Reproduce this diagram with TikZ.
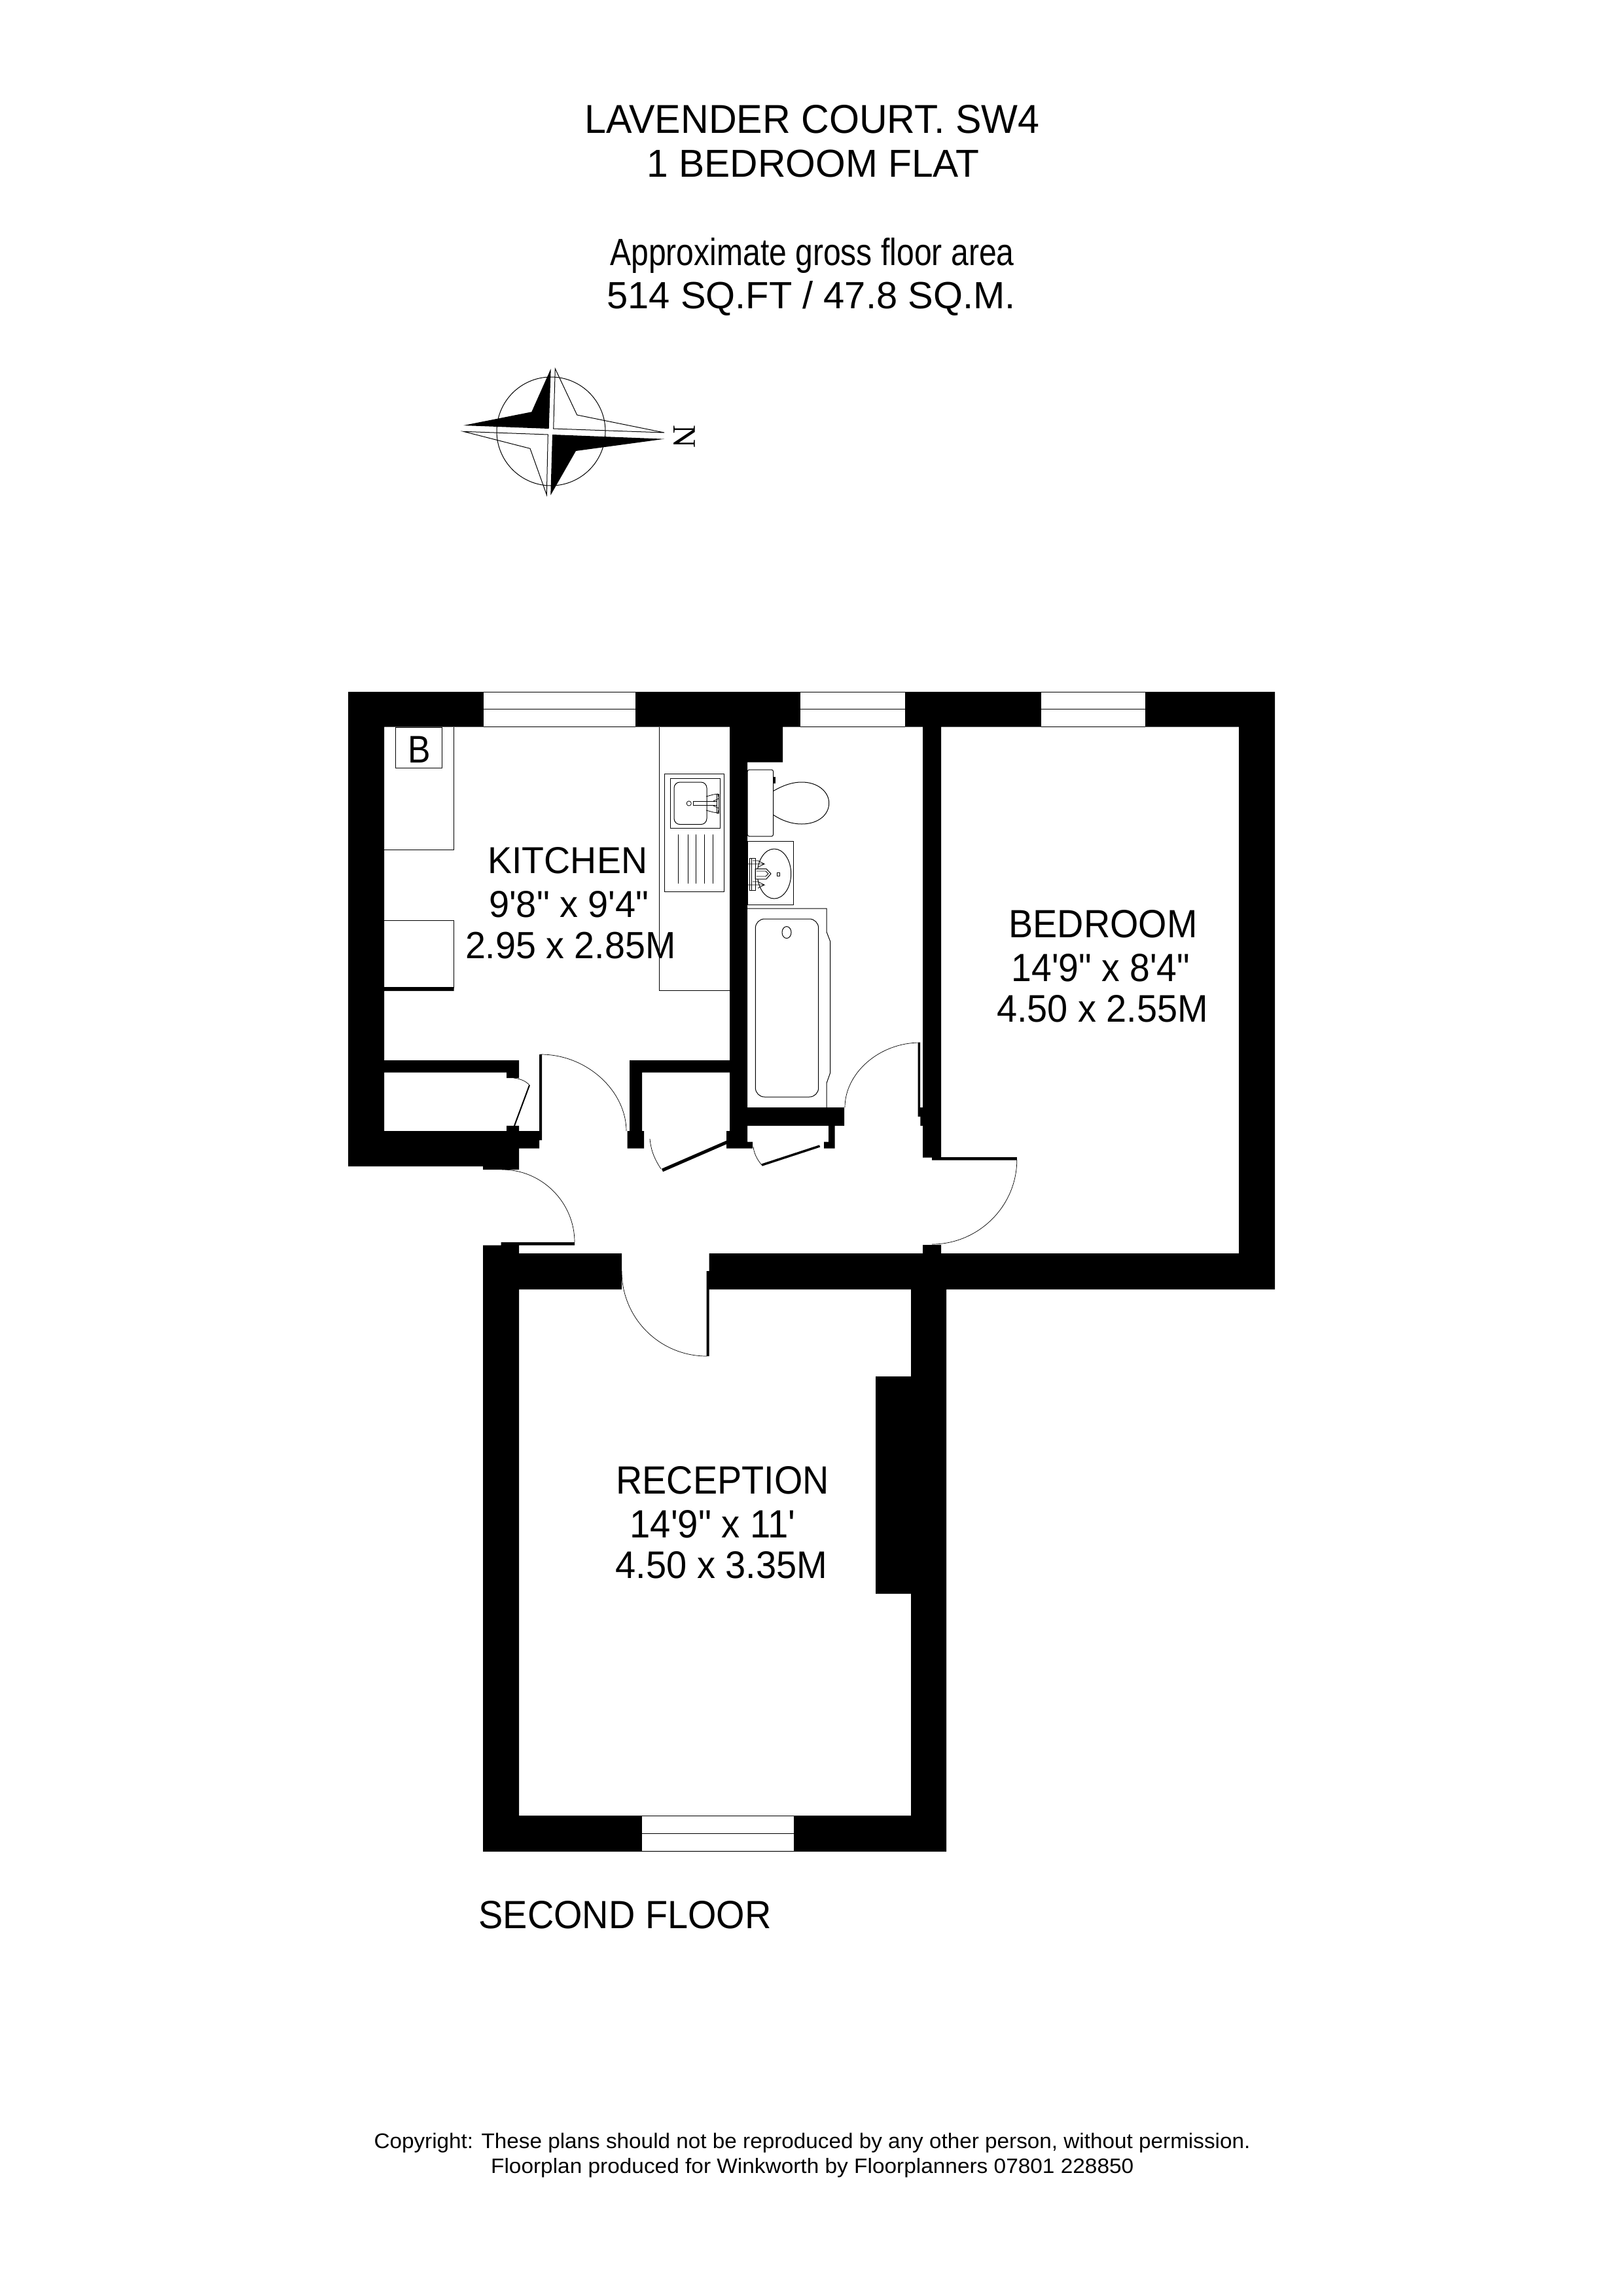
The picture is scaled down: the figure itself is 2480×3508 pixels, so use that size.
\documentclass[tikz,border=0pt]{standalone}
\usepackage{fontspec}
\usepackage{graphicx}
\newfontfamily\plainsans{Liberation Sans}
\newfontfamily\serifN{Liberation Serif}
\newcommand{\fitbox}[3]{\resizebox{\dimexpr#1pt+4pt\relax}{#2pt}{#3}}
\tikzset{
  wall/.style={fill=black,draw=none},
  fine/.style={draw=black,line width=1pt},
  hair/.style={draw=black,line width=0.8pt},
  swing/.style={draw=black,line width=0.7pt},
  leaf/.style={draw=black,line cap=butt},
  glaze/.style={fill=white,draw=none},
  txt/.style={inner sep=0pt,outer sep=0pt,anchor=base west,text=black,font=\plainsans,xshift=-1.5pt},
}
\begin{document}
\begin{tikzpicture}[x=1pt,y=-1pt]
\useasboundingbox (0,0) rectangle (2480,3508);
\fill[white] (0,0) rectangle (2480,3508);

% door swings (under the walls)
\path[swing] (826,1611) .. controls (898,1611) and (957,1668) .. (957,1728);
\path[swing] (767,1787) .. controls (828,1787) and (878,1837) .. (878,1898);
\path[swing] (950,1942) .. controls (950,2014) and (1008,2072) .. (1080,2072);
\path[swing] (1406,1593) .. controls (1343,1593) and (1291,1640) .. (1291,1692);
\path[swing] (1553.8,1772) .. controls (1553.8,1843) and (1495,1901) .. (1424,1901);
\path[swing] (993,1740) .. controls (995,1760) and (1001,1772) .. (1010,1786);
\path[swing] (1151,1752) .. controls (1152,1762) and (1157,1772) .. (1164,1780);
\path[swing] (785,1647) .. controls (795,1648) and (804,1652) .. (809,1658);

% walls
\path[wall]
  (532,1057) rectangle (1948,1110.5)
  (532,1057) rectangle (587,1782)
  (1893,1057) rectangle (1948,1970)
  (1115,1057) rectangle (1142,1754.6)
  (1115,1057) rectangle (1196,1164.5)
  (1410,1057) rectangle (1438,1768.6)
  (1424,1768) rectangle (1438,1772.5)
  (532,1728) rectangle (793,1782)
  (738,1782) rectangle (793,1787)
  (793,1728) rectangle (828,1742)
  (793,1742) rectangle (824,1754.6)
  (587,1620) rectangle (793,1638.6)
  (774,1620) rectangle (793,1647)
  (774,1720) rectangle (793,1728)
  (824,1611) rectangle (828,1728)
  (962,1620) rectangle (1115,1638.6)
  (962,1620) rectangle (981,1728)
  (958.5,1728) rectangle (984,1754.6)
  (1110,1728) rectangle (1142,1754.6)
  (1142,1744.6) rectangle (1150,1754.6)
  (1142,1692) rectangle (1290,1720)
  (1266,1720) rectangle (1275.5,1754.6)
  (1259,1744.6) rectangle (1275.5,1754.6)
  (1402.5,1593) rectangle (1406,1692)
  (1402.5,1692) rectangle (1410,1706)
  (1406.4,1706) rectangle (1410,1720)
  (1424,1768) rectangle (1553.8,1772.5)
  (1410,1902) rectangle (1438,1915)
  (793,1915) rectangle (950,1970)
  (1083.5,1915) rectangle (1948,1970)
  (1079.5,1942) rectangle (1083.5,1970)
  (1079.5,1942) rectangle (1083.7,2072)
  (738,1902.5) rectangle (793,2829)
  (765.6,1898) rectangle (793,1902.5)
  (765.6,1898) rectangle (878,1902.5)
  (1392,1970) rectangle (1446,2829)
  (1338,2103) rectangle (1392,2435)
  (738,2774) rectangle (1446,2829)
  (587,1508) rectangle (693.5,1514);

% door leaves
\draw[leaf,line width=5pt] (1111,1745) -- (1012,1788);
\draw[leaf,line width=3.5pt] (1252.6,1751) -- (1164,1780);
\draw[leaf,line width=2pt] (786,1720) -- (809,1658);

% windows
\path[glaze] (739,1057) rectangle (971,1110.5);
\path[glaze] (1222.7,1057) rectangle (1383,1110.5);
\path[glaze] (1591,1057) rectangle (1750,1110.5);
\path[glaze] (981,2774) rectangle (1213,2829);
\path[fine]
  (739,1057) -- (971,1057) (739,1083.5) -- (971,1083.5) (739,1110.5) -- (971,1110.5)
  (1222.7,1057) -- (1383,1057) (1222.7,1083.5) -- (1383,1083.5) (1222.7,1110.5) -- (1383,1110.5)
  (1591,1057) -- (1750,1057) (1591,1083.5) -- (1750,1083.5) (1591,1110.5) -- (1750,1110.5)
  (981,2774.5) -- (1213,2774.5) (981,2801.6) -- (1213,2801.6) (981,2828.5) -- (1213,2828.5);

% kitchen fittings
\path[fine] (604.5,1111) rectangle (675.5,1173);
\path[fine] (587,1298) -- (693,1298) -- (693,1111);
\path[fine] (587,1406) -- (693,1406) -- (693,1510);
\path[fine] (1007.6,1111) -- (1007.6,1513) -- (1115,1513);
\path[fine] (1015.6,1182.5) rectangle (1106.7,1362);
\path[fine] (1024,1189) rectangle (1100.4,1265.7);
\path[fine,rounded corners=9pt] (1030,1195) rectangle (1080,1259.6);
\path[fine] (1036,1274.6) -- (1036,1349.6) (1051,1274.6) -- (1051,1349.6)
  (1063,1274.6) -- (1063,1349.6) (1076,1274.6) -- (1076,1349.6) (1089,1274.6) -- (1089,1349.6);
% kitchen tap
\path[fine] (1059,1224) rectangle (1095,1230.7);
\path[hair] (1052.7,1227.5) ellipse [x radius=3.6pt, y radius=3.6pt];
\path[fine] (1095,1213) rectangle (1098.5,1242);
\path[hair] (1079,1217) -- (1090,1214) -- (1097,1213) -- (1098.5,1220) -- (1090,1224)
  (1079,1238) -- (1090,1241) -- (1097,1242) -- (1098.5,1235) -- (1090,1231);

% toilet
\path[fine,rounded corners=3pt] (1142,1176) rectangle (1181.7,1277.8);
\path[wall] (1181.7,1187) rectangle (1185,1197);
\path[fine] (1181.7,1208.6) .. controls (1198,1199) and (1212,1195) .. (1225,1195)
  .. controls (1250,1195) and (1266.7,1210) .. (1266.7,1227)
  .. controls (1266.7,1245) and (1250,1259) .. (1225,1259)
  .. controls (1210,1259) and (1195,1254) .. (1181.7,1245);

% basin
\path[fine] (1142.3,1285.8) rectangle (1212.7,1382);
\path[fine] (1183,1335) ellipse [x radius=25.7pt, y radius=38pt];
\path[fine,fill=white] (1154,1327.5) -- (1171,1327.5) -- (1178,1335) -- (1171,1343) -- (1154,1343) -- cycle;
\path[hair] (1156,1331) -- (1170,1331) -- (1174,1335) -- (1170,1339) -- (1156,1339);
\path[fine] (1145.7,1311.7) rectangle (1154,1360);
\path[fine] (1148.5,1311.7) -- (1148.5,1360);
\path[hair] (1143,1320) -- (1168,1320) -- (1158,1315) -- (1150,1315)
  (1158,1325) -- (1168,1320)
  (1143,1352) -- (1168,1352) -- (1158,1347) -- (1150,1347)
  (1158,1357) -- (1168,1352);
\path[hair] (1187,1333.6) rectangle (1191.7,1338);

% bath
\path[fine] (1142,1388) -- (1263,1388) -- (1263,1423.7) -- (1268.7,1438.5) -- (1268.7,1639)
  -- (1263,1655) -- (1263,1692);
\path[fine,rounded corners=14pt] (1154.3,1404) rectangle (1250.7,1676);
\path[fine] (1202,1424.6) ellipse [x radius=7pt, y radius=9pt];

% compass
\path[fine] (842,659) circle [radius=83pt];
\path[wall] (708.3,650) -- (812.3,629.3) -- (841.7,563.3) -- (838.7,655) -- cycle;
\path[wall] (1015,670.7) -- (880,689) -- (841.3,756.7) -- (844,664) -- cycle;
\path[fine] (848.3,563.3) -- (881.7,634) -- (1015,661) -- (845.7,655) -- cycle;
\path[fine] (708.3,659.3) -- (810,685.3) -- (835.3,756) -- (837.3,664) -- cycle;
\node[inner sep=0pt,rotate=-90,text=black] (northmark) at (1046,667.5) {\serifN\resizebox{35pt}{32.7pt}{N}};

% titles
\node[txt] (title1) at (895,204) {\fitbox{690.6}{43}{LAVENDER COURT. SW4}};
\node[txt] (title2) at (990,270.7) {\fitbox{504}{41.5}{1 BEDROOM FLAT}};
\node[txt] (area1) at (933.7,405) {\fitbox{613.3}{42}{Approximate gross floor area}};
\node[txt] (area2) at (929,471.7) {\fitbox{620}{42}{514 SQ.FT / 47.8 SQ.M.}};

% rooms
\node[txt] (boiler) at (624.5,1165) {\fitbox{30.5}{40.4}{B}};
\node[txt] (kit1) at (747,1334.3) {\fitbox{239.6}{40}{KITCHEN}};
\node[txt] (kit2) at (748.7,1401.4) {\fitbox{240.3}{40}{9'8" x 9'4"}};
\node[txt] (kit3) at (712.5,1464) {\fitbox{317.5}{40.4}{2.95 x 2.85M}};
\node[txt] (bed1) at (1543,1432) {\fitbox{284}{42}{BEDROOM}};
\node[txt] (bed2) at (1547,1499) {\fitbox{268.6}{42}{14'9" x 8'4"}};
\node[txt] (bed3) at (1524.6,1561) {\fitbox{319.2}{41}{4.50 x 2.55M}};
\node[txt] (rec1) at (943,2282) {\fitbox{321}{42}{RECEPTION}};
\node[txt] (rec2) at (964,2349) {\fitbox{249}{42}{14'9" x 11'}};
\node[txt] (rec3) at (942,2411) {\fitbox{320}{41}{4.50 x 3.35M}};
\node[txt] (floor) at (733,2946) {\fitbox{443}{42}{SECOND FLOOR}};

% footer
\node[txt] (copy1) at (573,3282.7) {\fitbox{1335}{23.4}{Copyright: These plans should not be reproduced by any other person, without permission.}};
\node[txt] (copy2) at (751.6,3320) {\fitbox{978.4}{23}{Floorplan produced for Winkworth by Floorplanners 07801 228850}};
\end{tikzpicture}
\end{document}
